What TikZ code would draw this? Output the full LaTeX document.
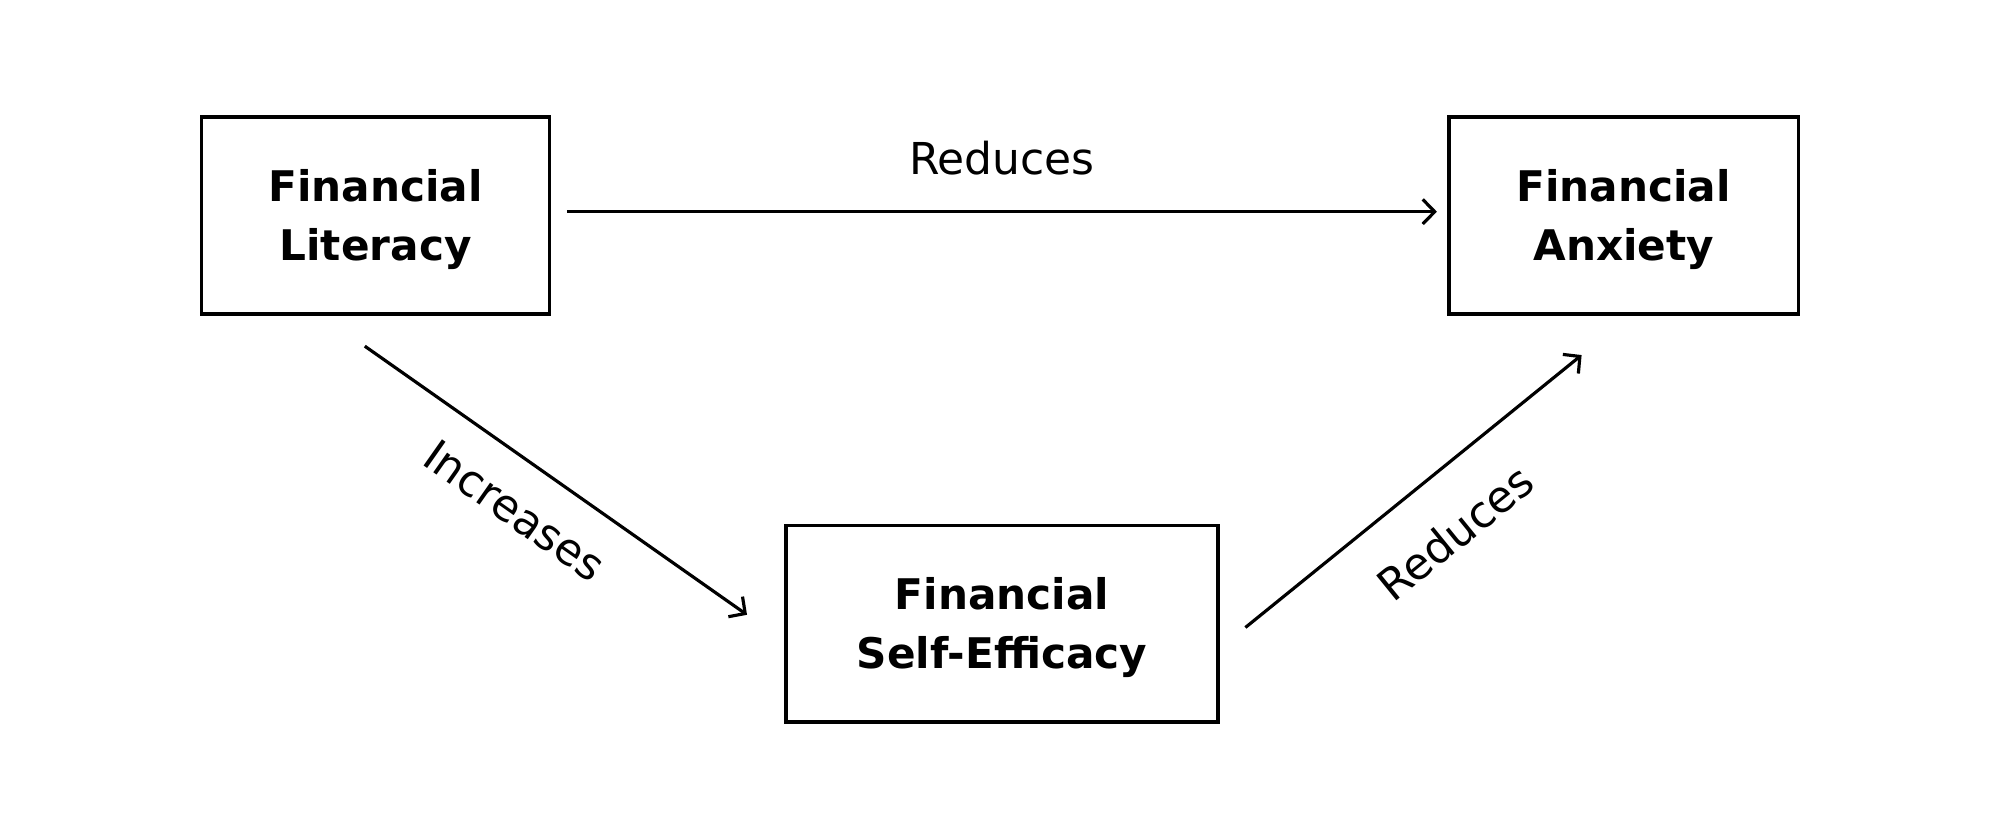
\documentclass[tikz,border=0pt]{standalone}
\usepackage{fontspec}
\setmainfont{DejaVu Sans}
\usetikzlibrary{arrows.meta,calc}
\newcommand{\toppad}{\rule{0pt}{11.4pt}}
\begin{document}
\begin{tikzpicture}[x=0.01cm,y=-0.01cm,
  box/.style={draw=black, line width=1pt, inner sep=0pt, minimum height=1.965cm,
    align=center, font=\bfseries\fontsize{12}{16.7}\selectfont},
  arr/.style={line width=0.9pt, -{Straight Barb[length=3.4pt,width=7pt,line width=0.9pt]}},
  lbl/.style={inner sep=0pt, font=\fontsize{12.5}{15}\selectfont}]
\useasboundingbox (0,0) rectangle (2000,840);
\node[box, minimum width=3.48cm] (FL) at (375.6,215.5) {\toppad Financial\\Literacy};
\node[box, minimum width=3.495cm] (FA) at (1623.7,215.5) {\toppad Financial\\Anxiety};
\node[box, minimum width=4.32cm] (FSE) at (1001.9,623.8) {\toppad Financial\\Self-Efficacy};
\draw[arr] ($(FL.east)+(15.3,-3.8)$) -- ($(FA.west)+(-10.2,-3.8)$)
  node[lbl, midway, above=10pt] (l1) {Reduces};
\draw[arr] ($(FL.south)+(-10.8,30.6)$) -- ($(FSE.west)+(-37,-9)$)
  node[lbl, pos=0.465, sloped, below=8.6pt] (l2) {Increases};
\draw[arr] ($(FSE.east)+(25.6,3.7)$) -- ($(FA.south)+(-42.1,39.5)$)
  node[lbl, pos=0.515, sloped, below=11.3pt] (l3) {Reduces};
\end{tikzpicture}
\end{document}
